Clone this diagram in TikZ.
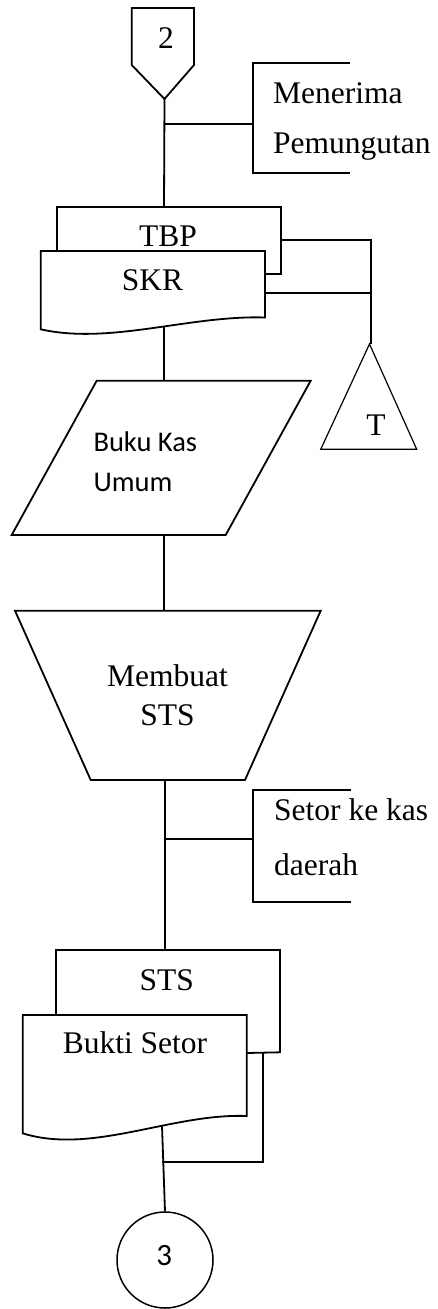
\documentclass[tikz,border=0pt]{standalone}
\usepackage{fontspec}
\setmainfont{Liberation Serif}
\newfontfamily\calib{Carlito}
\begin{document}
\begin{tikzpicture}[x=1pt,y=-1pt,
  shp/.style={draw, line width=1.8pt, line join=miter},
  thinshp/.style={draw, line width=1.2pt},
  conn/.style={draw, line width=1.8pt},
  lbl/.style={inner sep=0pt, anchor=base, font=\fontsize{31.5}{36}\selectfont},
  lbll/.style={inner sep=0pt, anchor=base west, font=\fontsize{31.5}{36}\selectfont},
  sans/.style={inner sep=0pt, anchor=base west, font=\calib\fontsize{28.5}{32}\selectfont},
  sansc/.style={inner sep=0pt, anchor=center, font=\calib\fontsize{31}{34}\selectfont}]
\useasboundingbox (0,0) rectangle (437,1309);

% off-page connector 2
\draw[shp] (131.7,8) -- (194,8) -- (194,65) -- (164.5,99) -- (131.7,65) -- cycle;
\coordinate (off2) at (164.5,99);
\node[lbl] (t2) at (166,48) {2};

% Menerima Pemungutan annotation
\draw[shp] (350,63) -- (253,63) -- (253,173) -- (350,173);
\coordinate (ann1) at (253,124);
\coordinate (br1) at (164,124);
\node[lbll] (men) at (273,103) {Menerima};
\node[lbll] (pem) at (273,153) {Pemungutan};

% TBP (back document)
\draw[shp] (56.7,251) -- (56.7,206.7) -- (280.7,206.7) -- (280.7,274) -- (265,274);
\coordinate (tbptop) at (164,206.7);
\coordinate (tbpright) at (280.7,240);
\node[lbl] (tbp) at (168,246.5) {TBP};

% SKR (front document)
\draw[shp] (265,317.5) .. controls (190,315) and (110,345) .. (40.7,329.3)
  -- (40.7,251) -- (265,251) -- cycle;
\coordinate (skrright) at (265,292.7);
\coordinate (skrbot) at (164,327);
\node[lbl] (skr) at (152.5,290.7) {SKR};

% triangle T (file)
\draw[thinshp] (369.5,344) -- (416.7,449.3) -- (320.7,449.3) -- cycle;
\coordinate (tritop) at (370.7,344);
\coordinate (trijoin) at (370.7,292.7);
\coordinate (tricorner) at (370.7,240);
\node[lbl] (tT) at (376,435) {T};

% Buku Kas Umum (parallelogram)
\draw[shp] (96.7,380.7) -- (310.7,380.7) -- (225.7,535) -- (11.7,535) -- cycle;
\coordinate (bkutop) at (164,380.7);
\coordinate (bkubot) at (164,535);
\node[sans] (bk1) at (93.3,451.7) {Buku Kas};
\node[sans] (bk2) at (93.3,491.7) {Umum};

% Membuat STS (manual operation)
\draw[shp] (15,610.7) -- (320.7,610.7) -- (245,780) -- (90.7,780) -- cycle;
\coordinate (mstop) at (164,610.7);
\coordinate (msbot) at (165,780);
\node[lbl] (ms1) at (167.5,686) {Membuat};
\node[lbl] (ms2) at (167.5,725) {STS};

% Setor ke kas daerah annotation
\draw[shp] (350.7,790) -- (252.7,790) -- (252.7,901.7) -- (350.7,901.7);
\coordinate (ann2) at (252.7,839.3);
\coordinate (br2) at (165,839.3);
\node[lbll] (sk1) at (274,820) {Setor ke kas};
\node[lbll] (sk2) at (274,875) {daerah};

% STS (back document)
\draw[shp] (56,1015) -- (56,950) -- (280,950) -- (280,1052.3) -- (246.7,1053);
\coordinate (ststop) at (165,950);
\coordinate (stsbot) at (263.3,1052.6);
\node[lbl] (sts) at (166.7,990) {STS};

% Bukti Setor (front document)
\draw[shp] (246.7,1116) .. controls (172,1113) and (92,1155) .. (22.7,1133.3)
  -- (22.7,1015) -- (246.7,1015) -- cycle;
\coordinate (bsbot) at (162,1126);
\node[lbl] (bs) at (135,1053) {Bukti Setor};

% connector 3
\node[draw, circle, line width=1.5pt, minimum size=96pt, inner sep=0pt] (c3) at (165,1260) {};
\node[sansc] (t3) at (164.3,1256) {3};
\coordinate (mergept) at (162,1162);
\coordinate (mergeright) at (263.3,1162);

% connectors
\draw[conn] (off2) -- (tbptop);
\draw[conn] (br1) -- (ann1);
\draw[conn] (tbpright) -- (tricorner) -- (tritop);
\draw[conn] (skrright) -- (trijoin);
\draw[line width=1.3pt] (skrbot) -- (bkutop);
\draw[conn] (bkubot) -- (mstop);
\draw[conn] (msbot) -- (ststop);
\draw[conn] (br2) -- (ann2);
\draw[conn] (stsbot) -- (mergeright) -- (mergept);
\draw[conn] (bsbot) -- (c3.north);
\end{tikzpicture}
\end{document}
